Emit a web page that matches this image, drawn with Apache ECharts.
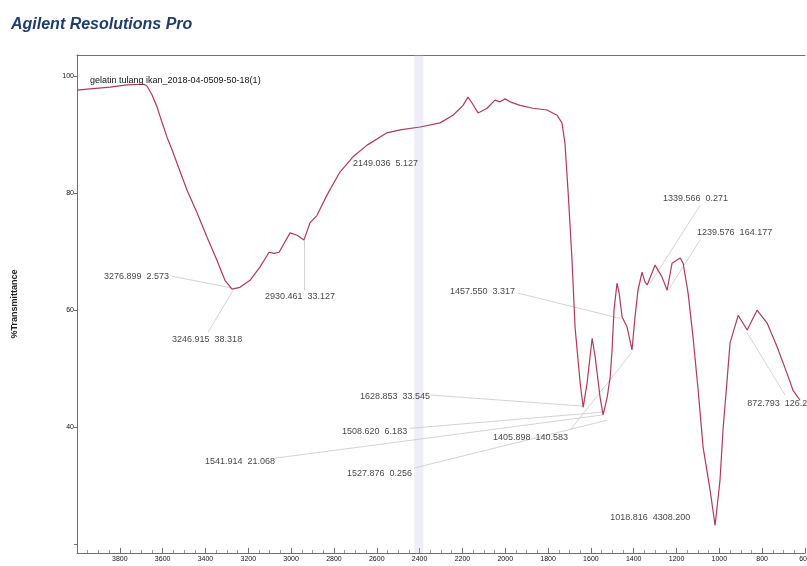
<!DOCTYPE html>
<html>
<head>
<meta charset="utf-8">
<script src="https://cdn.jsdelivr.net/npm/echarts@6/dist/echarts.min.js"></script>
<style>
html,body{margin:0;padding:0;background:#fff;}
#chart{width:807px;height:566px;}
</style>
</head>
<body>
<div id="chart"></div>
<script>
// ---- Spectrum data (wavenumber cm-1, %Transmittance) ----
const wavenumbers = [4000,3939,3846,3766,3687,3673,3650,3626,3603,3580,3556,3533,3486,3439,3393,3346,3309,3276,3239,3192,3145,3103,3080,3056,3005,2972,2940,2912,2879,2832,2772,2711,2645,2552,2491,2398,2304,2244,2197,2174,2155,2127,2085,2048,2024,2001,1977,1931,1870,1805,1758,1735,1721,1706,1688,1674,1650,1636,1618,1594,1580,1557,1543,1524,1510,1501,1492,1478,1468,1454,1440,1431,1408,1394,1380,1361,1347,1337,1300,1267,1244,1221,1183,1169,1146,1123,1099,1076,1043,1020,997,983,964,950,912,870,824,777,730,684,656,623];
const transmittance = [97.6,97.8,98.1,98.5,98.6,98.3,96.8,94.7,92.1,89.6,87.4,85.1,80.5,76.6,72.5,68.5,65.1,63.6,63.9,65.1,67.4,69.9,69.7,69.9,73.2,72.8,72.0,74.9,76.2,79.7,83.6,86.2,88.2,90.3,90.8,91.3,92.0,93.3,95.0,96.4,95.4,93.7,94.5,95.9,95.6,96.1,95.6,95.0,94.5,94.2,93.3,92.0,88.5,80.0,68.5,57.1,47.5,43.4,47.5,55.2,52.0,45.1,42.1,45.1,48.5,53.2,60.0,64.6,62.9,58.8,57.8,57.1,53.2,58.8,63.4,66.5,64.8,64.3,67.7,65.6,63.4,68.0,68.9,68.0,62.9,55.4,46.3,36.6,29.2,23.2,30.9,39.5,48.0,54.4,59.1,56.6,60.0,57.8,53.7,49.2,46.3,44.6];

// ---- Axis ticks ----
const xTickValues = [3800,3600,3400,3200,3000,2800,2600,2400,2200,2000,1800,1600,1400,1200,1000,800,600];
const yTickValues = [20,40,60,80,100];
const yLabelValues = [40,60,80,100];

// ---- Peak annotations ----
const peakTexts = ['3276.899  2.573','3246.915  38.318','2930.461  33.127','2149.036  5.127','1457.550  3.317','1339.566  0.271','1239.576  164.177','872.793  126.263','1018.816  4308.200','1628.853  33.545','1508.620  6.183','1541.914  21.068','1527.876  0.256','1405.898  140.583'];
// label anchors (left-middle of text), in data units
const labelWn = [3874,3556,3122,2711,2258,1263,1104,870,1510,2678,2762,3402,2739,2057];
const labelT  = [65.8,55.0,62.4,85.1,63.1,79.1,73.2,44.1,24.6,45.3,39.3,34.2,32.1,38.3];
// leader lines: from (wn,T) to (wn,T)
const leaderFrom = [[3556,65.8],[3388,56.2],[2940,63.4],null,[1940,62.9],[1090,77.9],[1090,72.0],[870,56.1],null,[2351,45.5],[2445,39.8],[3075,34.7],[2426,33.0],[1697,39.5]];
const leaderTo   = [[3279,63.8],[3271,63.4],[2940,72.0],null,[1464,58.6],[1323,64.6],[1239,63.4],[693,45.5],null,[1636,43.6],[1538,42.6],[1543,42.1],[1524,41.2],[1408,52.8]];

const spectrum = wavenumbers.map((w, i) => [w, transmittance[i]]);
const labelPts = peakTexts.map((t, i) => ({ value: [labelWn[i], labelT[i]], name: t }));
const leaders = [];
leaderFrom.forEach((f, i) => { if (f && leaderTo[i]) leaders.push({ coords: [f, leaderTo[i]] }); });

const chart = echarts.init(document.getElementById('chart'), null, { renderer: 'canvas' });
const axisGray = '#6f6f6f';
const font = 'Liberation Sans, Arial, sans-serif';
chart.setOption({
  backgroundColor: '#ffffff',
  animation: false,
  textStyle: { fontFamily: font },
  title: [
    { text: 'Agilent Resolutions Pro', left: 6, top: 12,
      textStyle: { fontSize: 16, fontWeight: 'bold', fontStyle: 'italic', color: '#1f3c6e', fontFamily: font } },
    { text: 'gelatin tulang ikan_2018-04-0509-50-18(1)', left: 85, top: 71,
      textStyle: { fontSize: 9, fontWeight: 'normal', color: '#111', fontFamily: font } }
  ],
  grid: { left: 77, right: 2, top: 55, bottom: 13, containLabel: false, outerBoundsMode: 'none' },
  xAxis: [{
    type: 'value', inverse: true, min: 600, max: 4000, interval: 200,
    axisLine: { show: true, lineStyle: { color: axisGray, width: 1 } },
    axisTick: { show: true, inside: true, length: 5, lineStyle: { color: axisGray } },
    minorTick: { show: true, splitNumber: 4, length: 3, lineStyle: { color: '#999' } },
    splitLine: { show: false },
    axisLabel: { fontSize: 7, color: '#111', margin: 3, hideOverlap: false,
      formatter: v => (xTickValues.indexOf(v) >= 0 ? String(v) : '') }
  }, {
    type: 'value', inverse: true, min: 600, max: 4000, position: 'top',
    axisLine: { show: true, lineStyle: { color: axisGray, width: 1 } },
    axisTick: { show: false }, axisLabel: { show: false }, splitLine: { show: false }
  }],
  yAxis: {
    type: 'value', min: 18.5, max: 103.6,
    name: '%Transmittance', nameLocation: 'middle', nameRotate: 90, nameGap: 58,
    nameTextStyle: { fontSize: 9, fontWeight: 'bold', color: '#222' },
    axisLine: { show: true, lineStyle: { color: axisGray, width: 1 } },
    axisTick: { show: true, length: 3, customValues: yTickValues, lineStyle: { color: axisGray } },
    axisLabel: { fontSize: 7, color: '#111', margin: 3, customValues: yLabelValues },
    splitLine: { show: false }
  },
  series: [
    {
      name: 'gelatin tulang ikan_2018-04-0509-50-18(1)',
      type: 'line', data: spectrum, showSymbol: false, smooth: false,
      lineStyle: { color: '#b03a5b', width: 1.2 },
      markArea: { silent: true, itemStyle: { color: 'rgba(195,195,230,0.28)' },
        data: [[{ xAxis: 2425 }, { xAxis: 2382 }]] },
      z: 3
    },
    {
      type: 'lines', coordinateSystem: 'cartesian2d', polyline: false,
      data: leaders, silent: true,
      lineStyle: { color: '#c8c8c8', width: 0.8, opacity: 1 },
      z: 2
    },
    {
      type: 'scatter', data: labelPts, symbolSize: 0, silent: true,
      label: { show: true, position: 'right', distance: 0, formatter: p => p.name,
        fontSize: 9, color: '#111', fontFamily: font },
      z: 4
    }
  ]
});
</script>
</body>
</html>
